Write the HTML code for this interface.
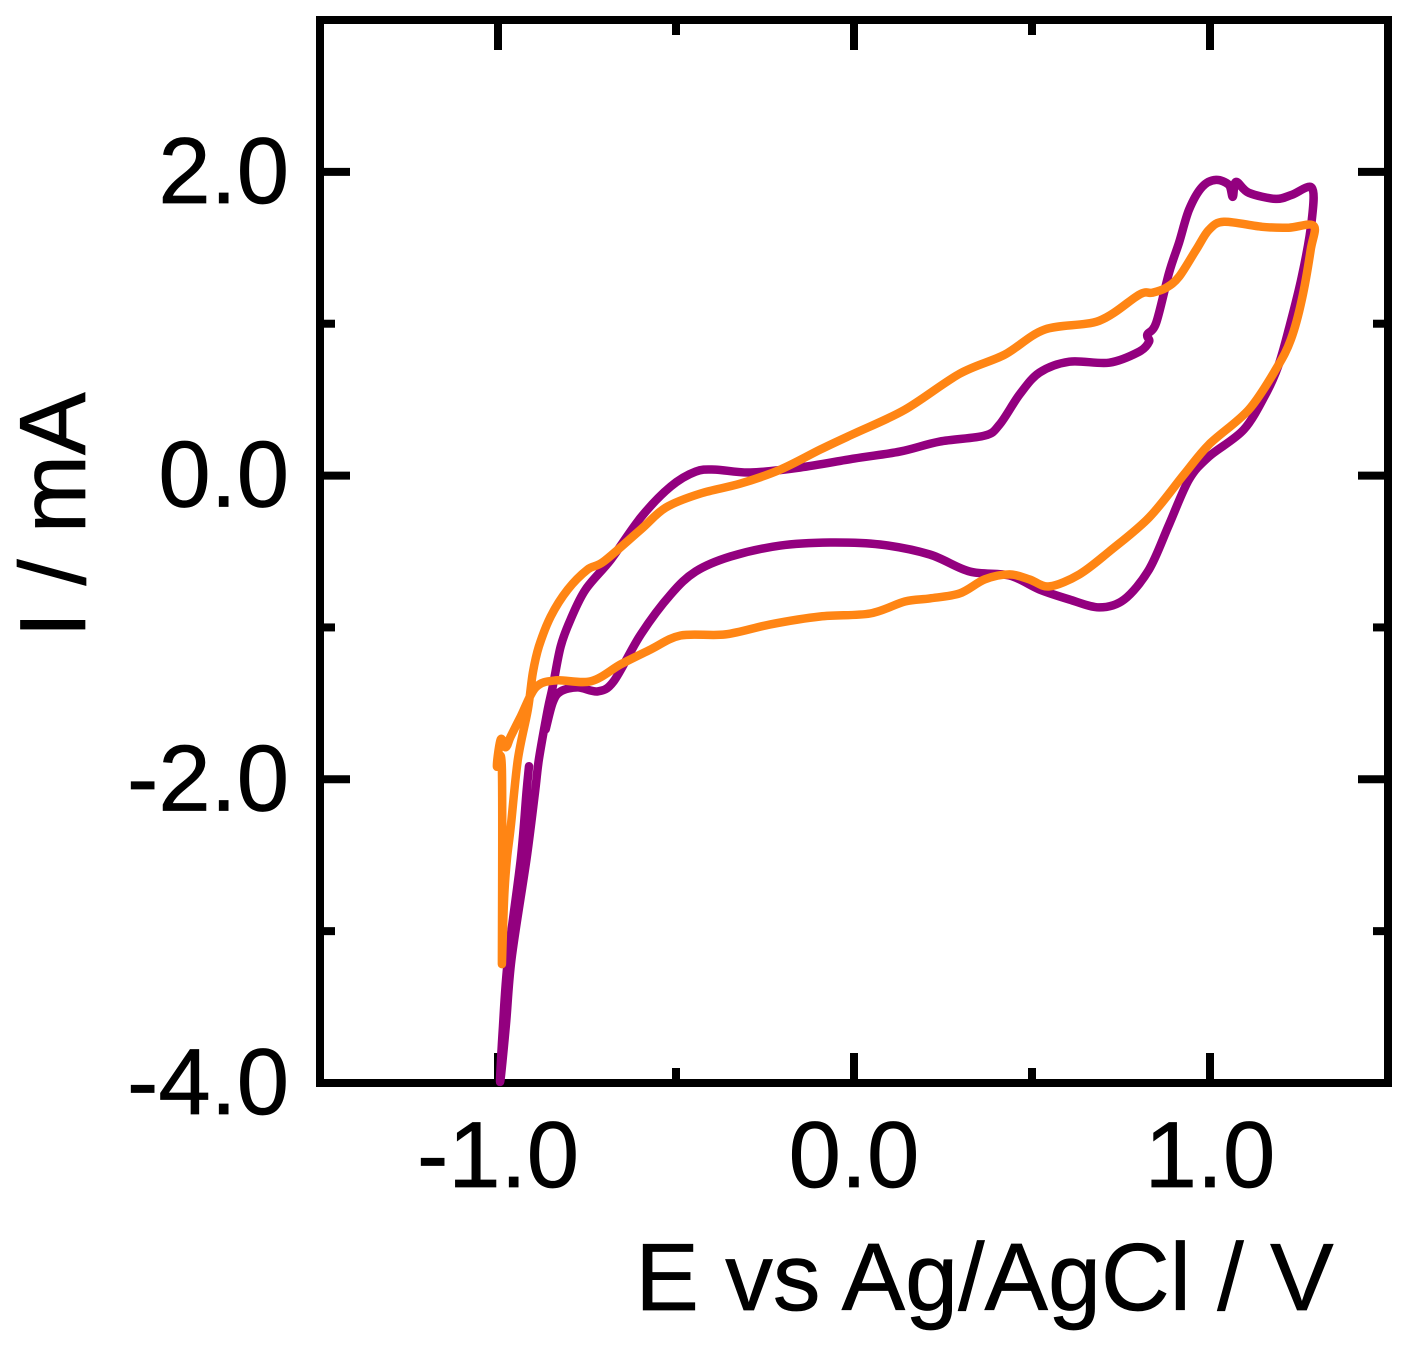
<!DOCTYPE html>
<html lang="en">
<head>
<meta charset="utf-8">
<title>Cyclic voltammogram</title>
<style>
html,body{margin:0;padding:0;background:#fff;width:1409px;height:1353px;overflow:hidden}
svg{display:block}
text{font-family:"Liberation Sans",sans-serif;fill:#000;stroke:#000;stroke-width:.7px}
</style>
</head>
<body>
<svg id="chart" xmlns="http://www.w3.org/2000/svg" width="1409" height="1353" viewBox="0 0 1409 1353">
  <text x="984.5" y="1310" font-size="95.2" text-anchor="middle">E vs Ag/AgCl / V</text>
  <text transform="translate(85,515) rotate(-90)" font-size="94" text-anchor="middle">I / mA</text>
</svg>
<script>
const xMajorTicks = [-1, 0, 1];
const xMinorTicks = [-0.5, 0.5];
const xTickLabels = ['-1.0', '0.0', '1.0'];
const yMajorTicks = [2, 0, -2, -4];
const yMinorTicks = [1, -1, -3];
const yTickLabels = ['2.0', '0.0', '-2.0', '-4.0'];
const xDomain = [-1.5, 1.5];
const yDomain = [-4, 3];

const purplePotential = [-.913,-.920,-.936,-.972,-.986,-.994,-.978,-.962,-.920,-.896,-.885,-.860,-.846,-.824,-.796,-.754,-.683,-.599,-.515,-.445,-.389,-.291,-.151,0,.129,.241,.367,.409,.465,.521,.605,.717,.801,.829,.824,.849,.885,.913,.941,.978,1.017,1.053,1.064,1.073,1.109,1.185,1.230,1.286,1.286,1.258,1.221,1.193,1.160,1.095,.997,.941,.885,.829,.759,.689,.605,.521,.437,.325,.213,.073,-.067,-.207,-.347,-.445,-.515,-.599,-.675,-.720,-.776,-.824,-.846,-.866];
const purpleCurrent = [-1.914,-2.086,-2.526,-3.184,-3.625,-3.993,-3.625,-3.184,-2.526,-2.086,-1.868,-1.539,-1.388,-1.125,-.947,-.750,-.553,-.276,-.072,.026,.039,.020,.053,.112,.158,.224,.263,.336,.533,.678,.750,.743,.816,.882,.928,1.007,1.336,1.533,1.750,1.901,1.947,1.914,1.836,1.934,1.862,1.822,1.849,1.895,1.684,1.309,.961,.730,.553,.303,.125,-.026,-.322,-.618,-.816,-.868,-.816,-.750,-.658,-.632,-.520,-.454,-.441,-.461,-.533,-.632,-.783,-1.046,-1.355,-1.421,-1.395,-1.421,-1.493,-1.671];

const orangePotential = [-.989,-.983,-.975,-.964,-.944,-.916,-.902,-.885,-.852,-.804,-.748,-.703,-.599,-.529,-.431,-.319,-.207,-.095,0,.143,.297,.423,.535,.689,.801,.838,.877,.913,.961,.997,1.039,1.146,1.221,1.291,1.283,1.258,1.227,1.188,1.109,.997,.927,.829,.717,.633,.549,.493,.437,.367,.297,.213,.143,.045,-.095,-.235,-.361,-.487,-.571,-.655,-.739,-.838,-.894,-.936,-.964,-.978,-.992,-1.003,-.989,-.989];
const orangeCurrent = [-3.217,-2.789,-2.526,-2.309,-1.868,-1.539,-1.296,-1.125,-.928,-.750,-.618,-.566,-.355,-.211,-.118,-.053,.039,.171,.276,.434,.671,.796,.961,1.020,1.191,1.204,1.237,1.309,1.487,1.618,1.671,1.638,1.632,1.645,1.487,1.158,.895,.711,.434,.204,.007,-.276,-.500,-.651,-.730,-.684,-.651,-.684,-.776,-.809,-.829,-.908,-.928,-.980,-1.046,-1.053,-1.145,-1.243,-1.355,-1.349,-1.395,-1.586,-1.717,-1.789,-1.737,-1.914,-1.934,-3.217];

const NS = 'http://www.w3.org/2000/svg';
const svg = document.getElementById('chart');
const left = 320, right = 1388, top_ = 20, bottom = 1083;
const plotW = right - left, plotH = bottom - top_;

function xScale(v) { return left + (v - xDomain[0]) / (xDomain[1] - xDomain[0]) * plotW; }
function yScale(v) { return bottom - (v - yDomain[0]) / (yDomain[1] - yDomain[0]) * plotH; }

function smoothPath(xs, ys) {
  const p = xs.map((x, i) => [xScale(x), yScale(ys[i])]);
  let d = 'M' + p[0][0].toFixed(1) + ' ' + p[0][1].toFixed(1);
  for (let i = 0; i < p.length - 1; i++) {
    const a = p[Math.max(i - 1, 0)], b = p[i], c = p[i + 1], e = p[Math.min(i + 2, p.length - 1)];
    const k = 0.16;
    const c1x = b[0] + (c[0] - a[0]) * k, c1y = b[1] + (c[1] - a[1]) * k;
    const c2x = c[0] - (e[0] - b[0]) * k, c2y = c[1] - (e[1] - b[1]) * k;
    d += 'C' + c1x.toFixed(1) + ' ' + c1y.toFixed(1) + ' ' + c2x.toFixed(1) + ' ' + c2y.toFixed(1) + ' ' + c[0].toFixed(1) + ' ' + c[1].toFixed(1);
  }
  return d;
}

function addTick(x1, y1, x2, y2, width) {
  const t = document.createElementNS(NS, 'line');
  t.setAttribute('x1', x1); t.setAttribute('y1', y1);
  t.setAttribute('x2', x2); t.setAttribute('y2', y2);
  t.setAttribute('stroke', '#000');
  t.setAttribute('stroke-width', width);
  
  
  svg.appendChild(t);
}

xMajorTicks.forEach(v => {
  addTick(xScale(v), bottom, xScale(v), bottom - 30, 8);
  addTick(xScale(v), top_, xScale(v), top_ + 30, 8);
});
xMinorTicks.forEach(v => {
  addTick(xScale(v), bottom, xScale(v), bottom - 15, 8);
  addTick(xScale(v), top_, xScale(v), top_ + 15, 8);
});
yMajorTicks.forEach(v => {
  addTick(left, yScale(v), left + 30, yScale(v), 8);
  addTick(right, yScale(v), right - 30, yScale(v), 8);
});
yMinorTicks.forEach(v => {
  addTick(left, yScale(v), left + 15, yScale(v), 8);
  addTick(right, yScale(v), right - 15, yScale(v), 8);
});

xMajorTicks.forEach((v, i) => {
  const t = document.createElementNS(NS, 'text');
  t.setAttribute('x', xScale(v));
  t.setAttribute('y', 1187);
  t.setAttribute('font-size', 94);
  t.setAttribute('text-anchor', 'middle');
  
  
  t.textContent = xTickLabels[i];
  svg.appendChild(t);
});
yMajorTicks.forEach((v, i) => {
  const t = document.createElementNS(NS, 'text');
  t.setAttribute('x', 289);
  t.setAttribute('y', yScale(v) + 31);
  t.setAttribute('font-size', 94);
  t.setAttribute('text-anchor', 'end');
  
  
  t.textContent = yTickLabels[i];
  svg.appendChild(t);
});

const purple = document.createElementNS(NS, 'path');
purple.setAttribute('d', smoothPath(purplePotential, purpleCurrent));
purple.setAttribute('fill', 'none');
purple.setAttribute('stroke', '#93007f');
purple.setAttribute('stroke-width', 8.5);
purple.setAttribute('stroke-linejoin', 'round');
purple.setAttribute('stroke-linecap', 'round');


svg.appendChild(purple);

const orange = document.createElementNS(NS, 'path');
orange.setAttribute('d', smoothPath(orangePotential, orangeCurrent));
orange.setAttribute('fill', 'none');
orange.setAttribute('stroke', '#ff8514');
orange.setAttribute('stroke-width', 8.5);
orange.setAttribute('stroke-linejoin', 'round');
orange.setAttribute('stroke-linecap', 'round');


svg.appendChild(orange);

const frame = document.createElementNS(NS, 'rect');
frame.setAttribute('x', left);
frame.setAttribute('y', top_);
frame.setAttribute('width', plotW);
frame.setAttribute('height', plotH);
frame.setAttribute('fill', 'none');
frame.setAttribute('stroke', '#000');
frame.setAttribute('stroke-width', 8);


svg.insertBefore(frame, purple);
</script>
</body>
</html>
